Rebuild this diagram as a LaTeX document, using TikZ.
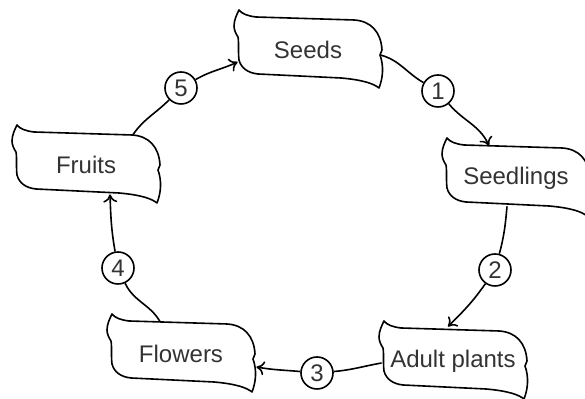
\documentclass[tikz,border=0pt]{standalone}
\usepackage{fontspec}
\setmainfont{Liberation Sans}
\usetikzlibrary{arrows.meta,calc}

\begin{document}
\begin{tikzpicture}[
		x=0.5pt, y=0.5pt,
		stage/.style = {minimum width=74pt, minimum height=39pt, inner sep=0pt,
			text=black!80, font=\fontsize{12}{14}\selectfont},
		num/.style = {draw, circle, fill=white, minimum size=16pt, inner sep=0pt,
			line width=0.8pt, text=black!80, font=\fontsize{12}{14}\selectfont},
		link/.style = {draw, line width=0.8pt},
		flow/.style = {link, -{To[length=4pt,width=7pt]}},
		scrollbox/.pic = {
			\draw[line width=0.8pt, line join=round, shift={(-72,40)}] (3,0)
				.. controls (6,-4) and (12,-6) .. (20,-7) -- (118,-10)
				.. controls (135,-11) and (145,-22) .. (146,-40)
				.. controls (145,-42) .. (144,-45)
				.. controls (148,-56) and (147,-68) .. (143,-78)
				.. controls (138,-74) and (128,-70) .. (105,-68) -- (22,-64)
				.. controls (12,-63) and (5,-58) .. (3,-50)
				.. controls (2,-42) and (3,-32) .. (2,-27)
				.. controls (0,-24) and (-2,-20) .. (-2,-16)
				.. controls (-2,-10) and (1,-4) .. (3,0) -- cycle;
		},
	]
	\useasboundingbox (0,0) rectangle (585,399);

	% stages of the cycle
	\node[stage] (seeds) at (308,349) {Seeds};
	\node[stage] (seedlings) at (516,221) {Seedlings};
	\node[stage] (adult) at (453,38) {Adult plants};
	\node[stage] (flowers) at (181,45) {Flowers};
	\node[stage] (fruits) at (86,234) {Fruits};
	\foreach \n in {seeds,seedlings,adult,flowers,fruits}
		\pic at (\n.center) {scrollbox};

	% numbered steps
	\node[num] (c1) at (438,308) {1};
	\node[num] (c2) at (495,129) {2};
	\node[num] (c3) at (317,26) {3};
	\node[num] (c4) at (118,131) {4};
	\node[num] (c5) at (181,311) {5};

	% connectors
	\draw[link] ($(seeds.east)+(-2,-5)$) to[out=-15,in=150] (c1);
	\draw[flow] (c1) to[out=-50,in=115] ($(seedlings.north)+(-27,-7)$);
	\draw[link] ($(seedlings.south)+(-9,11)$) to[out=-95,in=75] (c2);
	\draw[flow] (c2) to[out=-125,in=45] ($(adult.north)+(-5,-5)$);
	\draw[link] ($(adult.west)+(3,-2)$) to[out=190,in=5] (c3);
	\draw[flow] (c3) to[out=175,in=-10] ($(flowers.east)+(1,-13)$);
	\draw[link] ($(flowers.north)+(-21,-7)$) to[out=120,in=-65] (c4);
	\draw[flow] (c4) to[out=100,in=-88] ($(fruits.south)+(24,10)$);
	\draw[link] ($(fruits.north)+(47,-9)$) to[out=55,in=-135] (c5);
	\draw[flow] (c5) to[out=30,in=-155] ($(seeds.west)+(4,-12)$);
\end{tikzpicture}
\end{document}
